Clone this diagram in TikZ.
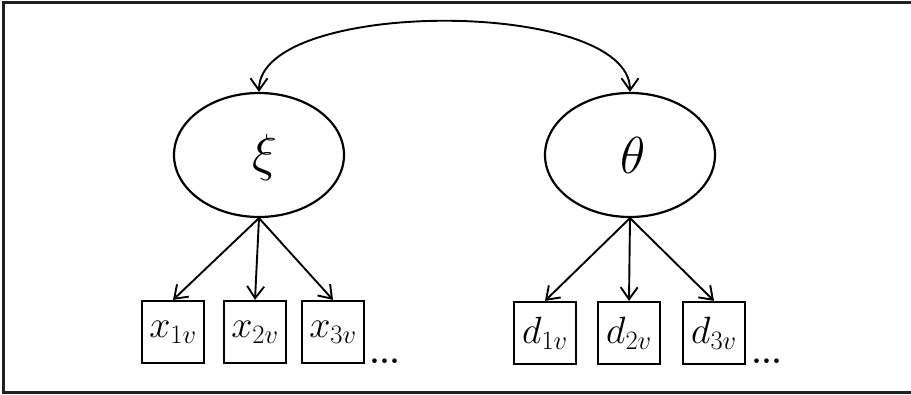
\RequirePackage{fix-cm}
\documentclass[tikz,border=0pt]{standalone}
\usetikzlibrary{arrows.meta,shapes.geometric,calc}
\begin{document}
\begin{tikzpicture}[x=1pt,y=-1pt,
  latent/.style={draw,ellipse,line width=2.2pt,minimum width=170pt,minimum height=124pt,inner sep=0pt},
  manifest/.style={draw,rectangle,line width=2.2pt,minimum width=62pt,minimum height=62pt,inner sep=0pt,font=\fontsize{38}{42}\selectfont},
  greek/.style={font=\fontsize{52}{58}\selectfont},
  more/.style={font=\fontsize{32}{36}\selectfont\bfseries,anchor=base west},
  load/.style={-{Straight Barb[length=12pt,width=17pt,line width=1.9pt]},line width=1.9pt},
  covar/.style={{Straight Barb[length=12pt,width=17pt,line width=1.9pt]}-{Straight Barb[length=12pt,width=17pt,line width=1.9pt]},line width=1.9pt},
  frame/.style={line width=3pt,draw={rgb,255:red,35;green,31;blue,32}}]
\useasboundingbox (0,0) rectangle (911,395);
% outer frame (left, top, bottom edges)
\draw[frame] (911,3) -- (3.5,3) -- (3.5,393) -- (911,393);

% latent variables
\node[latent] (xi) at (259,155) {};
\node[greek] (xilab) at (265,158) {$\xi$};
\node[latent] (th) at (630,155) {};
\node[greek] (thlab) at (633,155) {$\theta$};

% covariance
\draw[covar]
  (xi.north) .. controls ($(xi.north)+(0,-94)$) and ($(th.north)+(0,-94)$) .. (th.north);

% indicators
\node[manifest] (x1) at (173,332) {$x_{1v}$};
\node[manifest] (x2) at (255,332) {$x_{2v}$};
\node[manifest] (x3) at (333,332) {$x_{3v}$};
\node[manifest] (d1) at (545,333) {$d_{1v}$};
\node[manifest] (d2) at (629,333) {$d_{2v}$};
\node[manifest] (d3) at (714,333) {$d_{3v}$};
\node[more] (xmore) at (366,364) {...};
\node[more] (dmore) at (748,364) {...};

% loadings
\foreach \t in {x1,x2,x3} \draw[load] (xi.south) -- (\t.north);
\foreach \t in {d1,d2,d3} \draw[load] (th.south) -- (\t.north);
\end{tikzpicture}
\end{document}
